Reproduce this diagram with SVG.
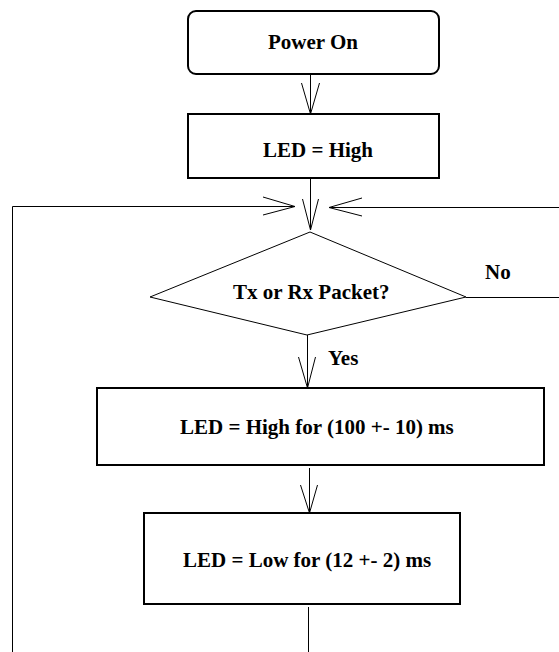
<svg xmlns="http://www.w3.org/2000/svg" width="559" height="652" viewBox="0 0 559 652">
<style>
.box{fill:#fff;stroke:#000;stroke-width:2}
.dia{fill:#fff;stroke:#000;stroke-width:1}
.ln{fill:none;stroke:#000;stroke-width:1}
text{font-family:"Liberation Serif","Times New Roman",serif;font-weight:bold;font-size:21px;fill:#000}
</style>
<rect width="559" height="652" fill="#fff"/>
<g id="connectors">
<line class="ln" x1="310.5" y1="74" x2="310.5" y2="114"/>
<polyline class="ln" points="301.5,83 310.5,114 319.5,83"/>
<line class="ln" x1="310.5" y1="178" x2="310.5" y2="230"/>
<polyline class="ln" points="302.5,199 310.5,230 318.5,199"/>
<polyline class="ln" points="308.5,607 308.5,652"/>
<polyline class="ln" points="12.5,652 12.5,206.5 295,206.5"/>
<polyline class="ln" points="263,197 295,206.5 263,215"/>
<polyline class="ln" points="466,297.5 559,297.5"/>
<line class="ln" x1="559" y1="207.5" x2="329" y2="207.5"/>
<polyline class="ln" points="362,198 329,207.5 362,216"/>
<line class="ln" x1="307.5" y1="335" x2="307.5" y2="388"/>
<polyline class="ln" points="298.5,357 307.5,388 315.5,357"/>
<line class="ln" x1="309.5" y1="468" x2="309.5" y2="513"/>
<polyline class="ln" points="300.5,485 309.5,513 317.5,485"/>
</g>
<g id="power-on">
<rect class="box" x="188" y="11" width="251" height="63" rx="8"/>
<text x="268" y="49">Power On</text>
</g>
<g id="led-high">
<rect class="box" x="188" y="114" width="251" height="64"/>
<text x="263" y="157">LED = High</text>
</g>
<g id="decision">
<polygon class="dia" points="310,232 466,297 307,335 150,297"/>
<text x="233" y="299">Tx or Rx Packet?</text>
</g>
<g id="label-no"><text x="485" y="279">No</text></g>
<g id="label-yes"><text x="328" y="365">Yes</text></g>
<g id="led-high-100">
<rect class="box" x="97" y="388" width="447" height="77"/>
<text x="180" y="434">LED = High for (100 +- 10) ms</text>
</g>
<g id="led-low-12">
<rect class="box" x="144" y="513" width="316" height="91"/>
<text x="183" y="567">LED = Low for (12 +- 2) ms</text>
</g>
</svg>
